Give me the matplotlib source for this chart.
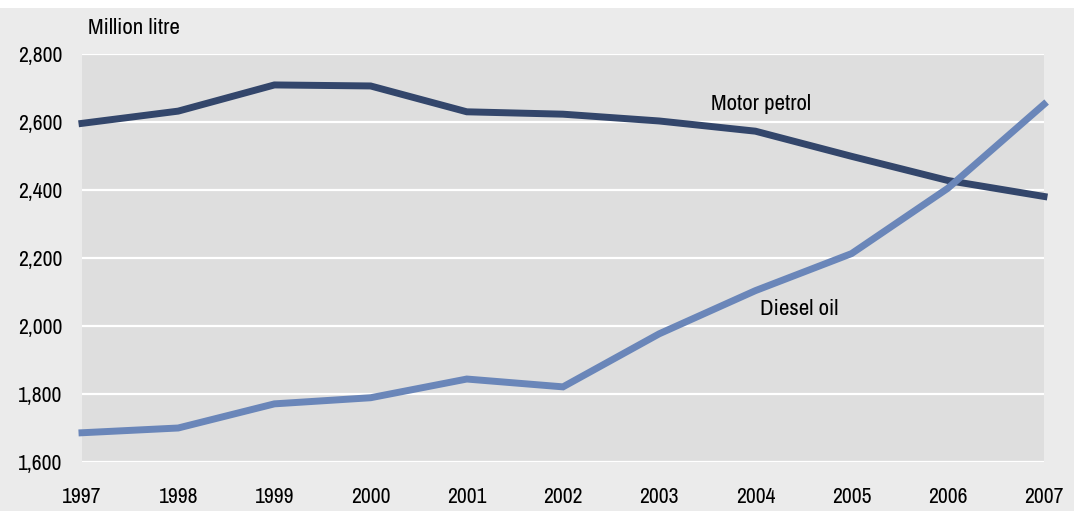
import matplotlib.pyplot as plt
from matplotlib.patches import Rectangle

plt.rcParams['font.family'] = ['Archivo Narrow', 'Liberation Sans', 'DejaVu Sans']

years = [1997, 1998, 1999, 2000, 2001, 2002, 2003, 2004, 2005, 2006, 2007]
motor_petrol = [2596, 2632, 2709, 2706, 2630, 2623, 2603, 2573, 2499, 2428, 2381]
diesel_oil = [1686, 1700, 1771, 1789, 1844, 1821, 1977, 2104, 2213, 2405, 2652]
yticks = [1600, 1800, 2000, 2200, 2400, 2600, 2800]

fig = plt.figure(figsize=(10.74, 5.11), dpi=100, facecolor='white')
# grey background below a thin white strip at the top
fig.patches.append(Rectangle((0, 0), 1, 1 - 8/511, transform=fig.transFigure,
                             facecolor='#ebebeb', edgecolor='none', zorder=-10))

ax = fig.add_axes([82/1074, 49/511, 962/1074, 408/511])
ax.set_facecolor('#dedede')

ax.plot(years, motor_petrol, color='#33466b', lw=5, solid_joinstyle='miter', zorder=3, clip_on=False)
ax.plot(years, diesel_oil, color='#6a86b9', lw=5, solid_joinstyle='miter', zorder=3, clip_on=False)

ax.set_xlim(1997, 2007)
ax.set_ylim(1600, 2800)
ax.set_xticks(years)
ax.set_yticks(yticks)
ax.set_yticklabels([f'{v:,}' for v in yticks])
ax.grid(axis='y', color='white', lw=1.6)
ax.set_axisbelow(True)
for s in ax.spines.values():
    s.set_visible(False)
ax.tick_params(axis='both', length=0, labelsize=15.5, colors='black')
ax.tick_params(axis='y', pad=14)
ax.tick_params(axis='x', pad=18)

fig.text(88/1074, 1 - 28/511, 'Million litre', fontsize=16.5, va='center', ha='left')
ax.text(2004.06, 2652, 'Motor petrol', fontsize=16.5, ha='center', va='center')
ax.text(2004.46, 2050, 'Diesel oil', fontsize=16.5, ha='center', va='center')

fig.savefig('out.png', dpi=100, facecolor=fig.get_facecolor())
